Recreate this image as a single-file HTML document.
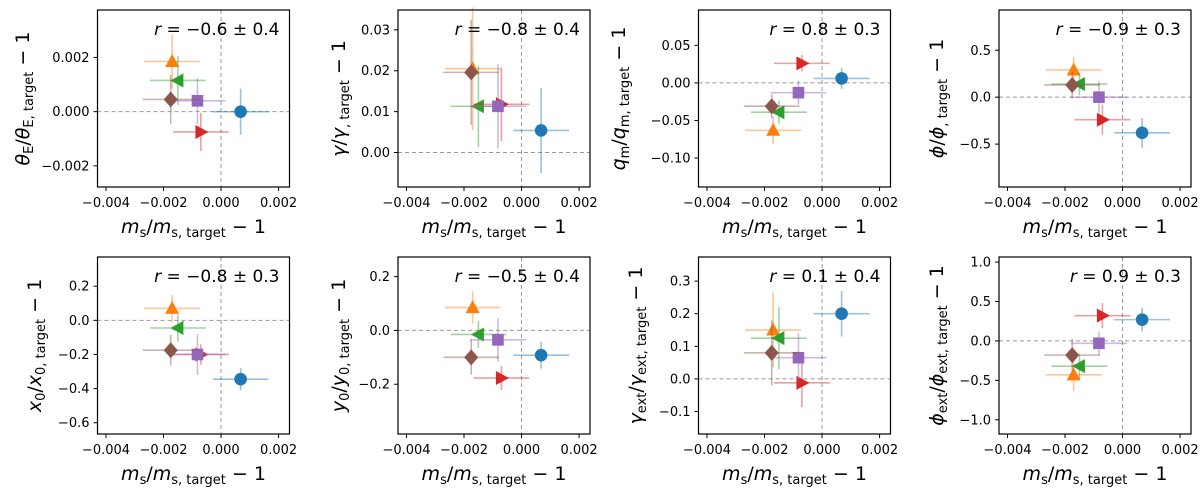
<!DOCTYPE html>
<html><head><meta charset="utf-8">
<style>
html,body{margin:0;padding:0;background:#fff;}
svg{display:block;font-family:"DejaVu Sans","Liberation Sans",sans-serif;}
</style></head>
<body>
<svg id="chart" width="1200" height="491" viewBox="0 0 1200 491" xmlns="http://www.w3.org/2000/svg"></svg>
<script>
const seriesNames = ["blue","orange","green","red","purple","brown"];
const seriesColors = ["#1f77b4","#ff7f0e","#2ca02c","#d62728","#9467bd","#8c564b"];
const seriesMarkers = ["circle","tri-up","tri-left","tri-right","square","diamond"];
const xValues = [0.00068,-0.0017,-0.0015,-0.0007,-0.00082,-0.00175];
const xErrors = [0.00097,0.00097,0.00097,0.00097,0.00097,0.00097];
const yThetaE = [0,0.00185,0.00115,-0.00075,0.0004,0.00045];
const eThetaE = [0.00085,0.001,0.0009,0.0007,0.00085,0.0009];
const yGamma = [0.0054,0.0205,0.0113,0.0118,0.0113,0.0196];
const eGamma = [0.0104,0.015,0.01,0.009,0.0103,0.0128];
const yQm = [0.006,-0.063,-0.039,0.026,-0.013,-0.031];
const eQm = [0.014,0.018,0.015,0.011,0.016,0.016];
const yPhi = [-0.38,0.29,0.14,-0.24,0.0,0.13];
const ePhi = [0.16,0.14,0.12,0.16,0.17,0.14];
const yX0 = [-0.345,0.07,-0.045,-0.2,-0.2,-0.175];
const eX0 = [0.065,0.08,0.08,0.06,0.12,0.09];
const yY0 = [-0.092,0.085,-0.015,-0.177,-0.035,-0.1];
const eY0 = [0.05,0.06,0.05,0.045,0.08,0.065];
const yGext = [0.2,0.15,0.125,-0.012,0.065,0.08];
const eGext = [0.07,0.115,0.095,0.075,0.075,0.1];
const yPhiExt = [0.27,-0.43,-0.32,0.32,-0.03,-0.18];
const ePhiExt = [0.15,0.2,0.16,0.16,0.15,0.2];
const xTicks = [-0.004,-0.002,0,0.002];
const xTickLabels = ["−0.004","−0.002","0.000","0.002"];
const rLabels = ["−0.6 ± 0.4","−0.8 ± 0.4","0.8 ± 0.3","−0.9 ± 0.3","−0.8 ± 0.3","−0.5 ± 0.4","0.1 ± 0.4","0.9 ± 0.3"];

const panels = [
 {name:"theta-e",x0:97.5,top:10,ylim:[-0.00278,0.00375],yv:yThetaE,ye:eThetaE,ticks:[-0.002,0,0.002],tl:["−0.002","0.000","0.002"],sym:"θ",sub:"E",lx:22},
 {name:"gamma",x0:398,top:10,ylim:[-0.00844,0.03486],yv:yGamma,ye:eGamma,ticks:[0,0.01,0.02,0.03],tl:["0.00","0.01","0.02","0.03"],sym:"γ",sub:"",lx:338},
 {name:"q-m",x0:698.5,top:10,ylim:[-0.1385,0.097],yv:yQm,ye:eQm,ticks:[-0.1,-0.05,0,0.05],tl:["−0.10","−0.05","0.00","0.05"],sym:"q",sub:"m",lx:618},
 {name:"phi",x0:999,top:10,ylim:[-0.957,0.929],yv:yPhi,ye:ePhi,ticks:[-0.5,0,0.5],tl:["−0.5","0.0","0.5"],sym:"ϕ",sub:"",lx:936},
 {name:"x0",x0:97.5,top:257,ylim:[-0.666,0.371],yv:yX0,ye:eX0,ticks:[-0.6,-0.4,-0.2,0,0.2],tl:["−0.6","−0.4","−0.2","0.0","0.2"],sym:"x",sub:"0",lx:34},
 {name:"y0",x0:398,top:257,ylim:[-0.385,0.273],yv:yY0,ye:eY0,ticks:[-0.2,0,0.2],tl:["−0.2","0.0","0.2"],sym:"y",sub:"0",lx:338},
 {name:"gamma-ext",x0:698.5,top:257,ylim:[-0.169,0.374],yv:yGext,ye:eGext,ticks:[-0.1,0,0.1,0.2,0.3],tl:["−0.1","0.0","0.1","0.2","0.3"],sym:"γ",sub:"ext",lx:635},
 {name:"phi-ext",x0:999,top:257,ylim:[-1.18,1.064],yv:yPhiExt,ye:ePhiExt,ticks:[-1,-0.5,0,0.5,1],tl:["−1.0","−0.5","0.0","0.5","1.0"],sym:"ϕ",sub:"ext",lx:936}
];
const W=192,H=177,XL=[-0.004295,0.00238];
const NS="http://www.w3.org/2000/svg";
const svg=document.getElementById('chart');
function mk(tag,attrs,parent){const e=document.createElementNS(NS,tag);for(const k in attrs)e.setAttribute(k,attrs[k]);(parent||svg).appendChild(e);return e;}

panels.forEach((p,pi)=>{
  const g=mk('g',{});
  
  
  const sx=v=>p.x0+(v-XL[0])/(XL[1]-XL[0])*W;
  const sy=v=>p.top+H-(v-p.ylim[0])/(p.ylim[1]-p.ylim[0])*H;
  const zx=mk('line',{x1:sx(0),x2:sx(0),y1:p.top,y2:p.top+H,stroke:"#999","stroke-width":1,"stroke-dasharray":"4,3"},g);
  
  
  const zy=mk('line',{x1:p.x0,x2:p.x0+W,y1:sy(0),y2:sy(0),stroke:"#999","stroke-width":1,"stroke-dasharray":"4,3"},g);
  
  
  for(let i=0;i<6;i++){
    const cx=sx(xValues[i]),cy=sy(p.yv[i]),c=seriesColors[i];
    const s=mk('g',{},g);
    
    
    mk('line',{x1:sx(xValues[i]-xErrors[i]),x2:sx(xValues[i]+xErrors[i]),y1:cy,y2:cy,stroke:c,"stroke-width":1.6,"stroke-opacity":0.45},s);
    mk('line',{x1:cx,x2:cx,y1:sy(p.yv[i]-p.ye[i]),y2:sy(p.yv[i]+p.ye[i]),stroke:c,"stroke-width":1.6,"stroke-opacity":0.45},s);
    const m=seriesMarkers[i];let pts;
    if(m==="circle") mk('circle',{cx,cy,r:6.3,fill:c},s);
    else if(m==="square") mk('rect',{x:cx-5.8,y:cy-5.8,width:11.6,height:11.6,fill:c},s);
    else{
      if(m==="tri-up") pts=[[cx,cy-7.5],[cx-7,cy+5.5],[cx+7,cy+5.5]];
      if(m==="tri-left") pts=[[cx-7.5,cy],[cx+5.5,cy-7],[cx+5.5,cy+7]];
      if(m==="tri-right") pts=[[cx+7.5,cy],[cx-5.5,cy-7],[cx-5.5,cy+7]];
      if(m==="diamond") pts=[[cx,cy-8],[cx+7,cy],[cx,cy+8],[cx-7,cy]];
      mk('polygon',{points:pts.map(q=>q.join(',')).join(' '),fill:c},s);
    }
  }
  const fr=mk('rect',{x:p.x0,y:p.top,width:W,height:H,fill:"none",stroke:"#000","stroke-width":1.2},g);
  
  
  xTicks.forEach((t,ti)=>{
    const x=sx(t);
    mk('line',{x1:x,x2:x,y1:p.top+H,y2:p.top+H+4,stroke:"#000","stroke-width":1},g);
    const tx=mk('text',{x:x,y:p.top+H+20,"text-anchor":"middle","font-size":13},g);
    tx.textContent=xTickLabels[ti];
    
    
  });
  p.ticks.forEach((t,ti)=>{
    const y=sy(t);
    mk('line',{x1:p.x0-4,x2:p.x0,y1:y,y2:y,stroke:"#000","stroke-width":1},g);
    const tx=mk('text',{x:p.x0-8,y:y+4.5,"text-anchor":"end","font-size":13},g);
    tx.textContent=p.tl[ti];
    
    
  });
  const xl=mk('text',{x:p.x0+W/2,y:p.top+H+46,"text-anchor":"middle","font-size":19},g);
  
  
  xl.innerHTML='<tspan font-style="italic">m</tspan><tspan font-size="13" dy="4">s</tspan><tspan dy="-4">/</tspan><tspan font-style="italic">m</tspan><tspan font-size="13" dy="4">s, target</tspan><tspan dy="-4"> − 1</tspan>';
  const cyl=p.top+H/2;
  const yl=mk('text',{x:0,y:0,"text-anchor":"middle","font-size":19,transform:`translate(${p.lx+7},${cyl}) rotate(-90)`},g);
  
  
  const sub=p.sub?`<tspan font-size="13" dy="4">${p.sub}</tspan><tspan dy="-4">/</tspan>`:'/';
  const sub2=p.sub?`<tspan font-size="13" dy="4">${p.sub}, target</tspan><tspan dy="-4"> − 1</tspan>`:`<tspan font-size="13" dy="4">, target</tspan><tspan dy="-4"> − 1</tspan>`;
  yl.innerHTML=`<tspan font-style="italic">${p.sym}</tspan>${sub}<tspan font-style="italic">${p.sym}</tspan>${sub2}`;
  const rt=mk('text',{x:p.x0+182,y:p.top+25,"text-anchor":"end","font-size":17},g);
  
  
  rt.innerHTML='<tspan font-style="italic">r</tspan> = '+rLabels[pi];
});
</script>
</body></html>
